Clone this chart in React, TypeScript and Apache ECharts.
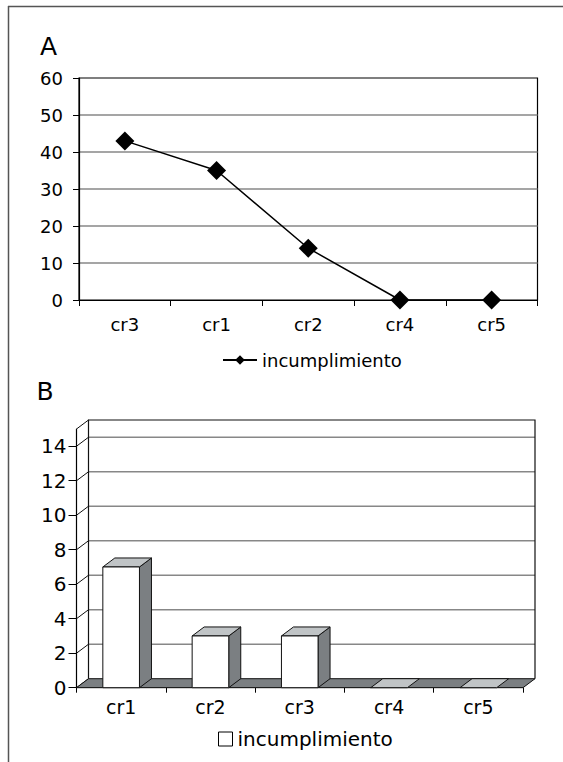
import React, { useEffect, useRef } from 'react';
import * as echarts from 'echarts';

// ---- data ----
const categoriesA = ['cr3', 'cr1', 'cr2', 'cr4', 'cr5'];
const valuesA = [43, 35, 14, 0, 0];
const yMinA = 0;
const yMaxA = 60;
const yStepA = 10;

const categoriesB = ['cr1', 'cr2', 'cr3', 'cr4', 'cr5'];
const valuesB = [7, 3, 3, 0, 0];
const ticksB = [0, 2, 4, 6, 8, 10, 12, 14];
const yMaxB = 15;

const seriesName = 'incumplimiento';
const panelLabels = ['A', 'B'];

// ---- style ----
const FONT = 'DejaVu Sans';
const DX = 12;
const DY = -9;
const DARK = '#7b7f82';
const LIGHT = '#c0c4c6';
const GRIDGRAY = '#878787';

function wallRender(params: any, api: any) {
  const cs = params.coordSys;
  const x0 = cs.x;
  const x1 = cs.x + cs.width;
  const yF = (v: number) => api.coord([0, v])[1];
  const y0 = yF(0);
  const yTop = yF(yMaxB);
  const children: any[] = [];
  children.push({
    type: 'rect',
    shape: { x: x0 + DX, y: yTop + DY, width: x1 - x0, height: y0 - yTop },
    style: { fill: '#fff', stroke: 'none' },
  });
  ticksB.forEach((v) => {
    if (v === 0) return;
    const y = yF(v) + DY;
    children.push({
      type: 'line',
      shape: { x1: x0 + DX, y1: y, x2: x1 + DX, y2: y },
      style: { stroke: GRIDGRAY, lineWidth: 1.5 },
    });
  });
  children.push({
    type: 'polyline',
    shape: {
      points: [
        [x0 + DX, y0 + DY],
        [x0 + DX, yTop + DY],
        [x1 + DX, yTop + DY],
        [x1 + DX, y0 + DY],
      ],
    },
    style: { stroke: '#111', lineWidth: 1.2, fill: 'none' },
  });
  [...ticksB, yMaxB].forEach((v) => {
    const y = yF(v);
    children.push({
      type: 'line',
      shape: { x1: x0, y1: y, x2: x0 + DX, y2: y + DY },
      style: { stroke: '#111', lineWidth: 1 },
    });
  });
  children.push({
    type: 'polygon',
    shape: {
      points: [
        [x0, y0],
        [x1, y0],
        [x1 + DX, y0 + DY],
        [x0 + DX, y0 + DY],
      ],
    },
    style: { fill: DARK, stroke: '#111', lineWidth: 1 },
  });
  return { type: 'group', children };
}

function barRender(params: any, api: any) {
  const idx = api.value(0);
  const val = api.value(1);
  const c = api.coord([idx, val]);
  const base = api.coord([idx, 0]);
  const w = api.size([1, 0])[0] * 0.41;
  const xl = c[0] - w / 2;
  const xr = c[0] + w / 2;
  const yt = c[1];
  const yb = base[1];
  const children: any[] = [];
  if (val > 0) {
    children.push({
      type: 'polygon',
      shape: { points: [[xr, yb], [xr, yt], [xr + DX, yt + DY], [xr + DX, yb + DY]] },
      style: { fill: DARK, stroke: '#111', lineWidth: 1 },
    });
  }
  children.push({
    type: 'polygon',
    shape: { points: [[xl, yt], [xr, yt], [xr + DX, yt + DY], [xl + DX, yt + DY]] },
    style: { fill: LIGHT, stroke: '#111', lineWidth: 1 },
  });
  if (val > 0) {
    children.push({
      type: 'rect',
      shape: { x: xl, y: yt, width: w, height: yb - yt },
      style: { fill: '#fff', stroke: '#111', lineWidth: 1 },
    });
  }
  return { type: 'group', children };
}

export default function App() {
  const ref = useRef<HTMLDivElement>(null);
  useEffect(() => {
    if (!ref.current) return;
    const chart = echarts.init(ref.current, undefined, { renderer: 'svg' });
    const axisLineStyle = { color: '#000', width: 1.2 };
    const option: any = {
      animation: false,
      textStyle: { fontFamily: FONT },
      grid: [
        { left: 79, top: 78, width: 458.5, height: 222, show: true, borderColor: '#000', borderWidth: 1.2, backgroundColor: 'transparent' },
        { left: 76.5, top: 429, width: 446.5, height: 258.7 },
      ],
      xAxis: [
        {
          gridIndex: 0,
          type: 'category',
          data: categoriesA,
          boundaryGap: true,
          axisLine: { show: true, lineStyle: axisLineStyle },
          axisTick: { show: true, length: 6, lineStyle: { color: '#000', width: 1 } },
          axisLabel: { color: '#000', fontSize: 18, margin: 15, fontFamily: FONT },
          splitLine: { show: false },
        },
        {
          gridIndex: 1,
          type: 'category',
          data: categoriesB,
          boundaryGap: true,
          axisLine: { show: true, lineStyle: axisLineStyle },
          axisTick: { show: true, length: 5, lineStyle: { color: '#000', width: 1 } },
          axisLabel: { color: '#000', fontSize: 19, margin: 10, fontFamily: FONT },
          splitLine: { show: false },
        },
      ],
      yAxis: [
        {
          gridIndex: 0,
          type: 'value',
          min: yMinA,
          max: yMaxA,
          interval: yStepA,
          axisLine: { show: true, lineStyle: axisLineStyle },
          axisTick: { show: true, length: 6, lineStyle: { color: '#000', width: 1 } },
          axisLabel: { color: '#000', fontSize: 18, margin: 16, fontFamily: FONT },
          splitLine: { show: true, showMaxLine: false, showMinLine: false, lineStyle: { color: GRIDGRAY, width: 1.5 } },
        },
        {
          gridIndex: 1,
          type: 'value',
          min: 0,
          max: yMaxB,
          axisLine: { show: true, lineStyle: axisLineStyle },
          axisTick: { show: true, length: 8, customValues: ticksB, lineStyle: { color: '#000', width: 1 } },
          axisLabel: { color: '#000', fontSize: 20, margin: 10, fontFamily: FONT, customValues: ticksB },
          splitLine: { show: false },
        },
      ],
      legend: [
        {
          data: [{ name: seriesName }],
          left: 217,
          top: 345,
          itemWidth: 34,
          itemHeight: 12,
          textStyle: { fontSize: 18, color: '#000', lineHeight: 20, fontFamily: FONT },
          selectedMode: false,
        },
        {
          data: [{ name: seriesName + 'B', icon: 'rect', itemStyle: { color: '#fff', borderColor: '#000', borderWidth: 1 } }],
          left: 213,
          top: 723,
          itemWidth: 14,
          itemHeight: 14,
          textStyle: { fontSize: 20, color: '#000', lineHeight: 22, fontFamily: FONT },
          formatter: () => seriesName,
          selectedMode: false,
        },
      ],
      graphic: [
        { type: 'line', shape: { x1: 8, y1: 6.5, x2: 563, y2: 6.5 }, style: { stroke: '#555', lineWidth: 1.5 } },
        { type: 'line', shape: { x1: 8.5, y1: 6, x2: 8.5, y2: 762 }, style: { stroke: '#555', lineWidth: 1.5 } },
        { type: 'text', x: 40, y: 46.3, style: { text: panelLabels[0], fontSize: 25, fontFamily: FONT, fill: '#000', verticalAlign: 'middle' } },
        { type: 'text', x: 36.6, y: 391.6, style: { text: panelLabels[1], fontSize: 25, fontFamily: FONT, fill: '#000', verticalAlign: 'middle' } },
      ],
      series: [
        {
          type: 'line',
          name: seriesName,
          xAxisIndex: 0,
          yAxisIndex: 0,
          data: valuesA,
          symbol: 'diamond',
          symbolSize: 19,
          lineStyle: { color: '#000', width: 1.5 },
          itemStyle: { color: '#000' },
        },
        {
          type: 'custom',
          name: 'wall',
          xAxisIndex: 1,
          yAxisIndex: 1,
          data: [[0, 0]],
          renderItem: wallRender,
          z: 1,
          silent: true,
        },
        {
          type: 'custom',
          name: seriesName + 'B',
          xAxisIndex: 1,
          yAxisIndex: 1,
          data: valuesB.map((v, i) => [i, v]),
          encode: { x: 0, y: 1 },
          renderItem: barRender,
          itemStyle: { color: '#fff', borderColor: '#000' },
          z: 2,
        },
      ],
    };
    chart.setOption(option);
    return () => chart.dispose();
  }, []);
  return <div ref={ref} style={{ position: 'absolute', left: 0, top: 0, width: 563, height: 762 }} />;
}
